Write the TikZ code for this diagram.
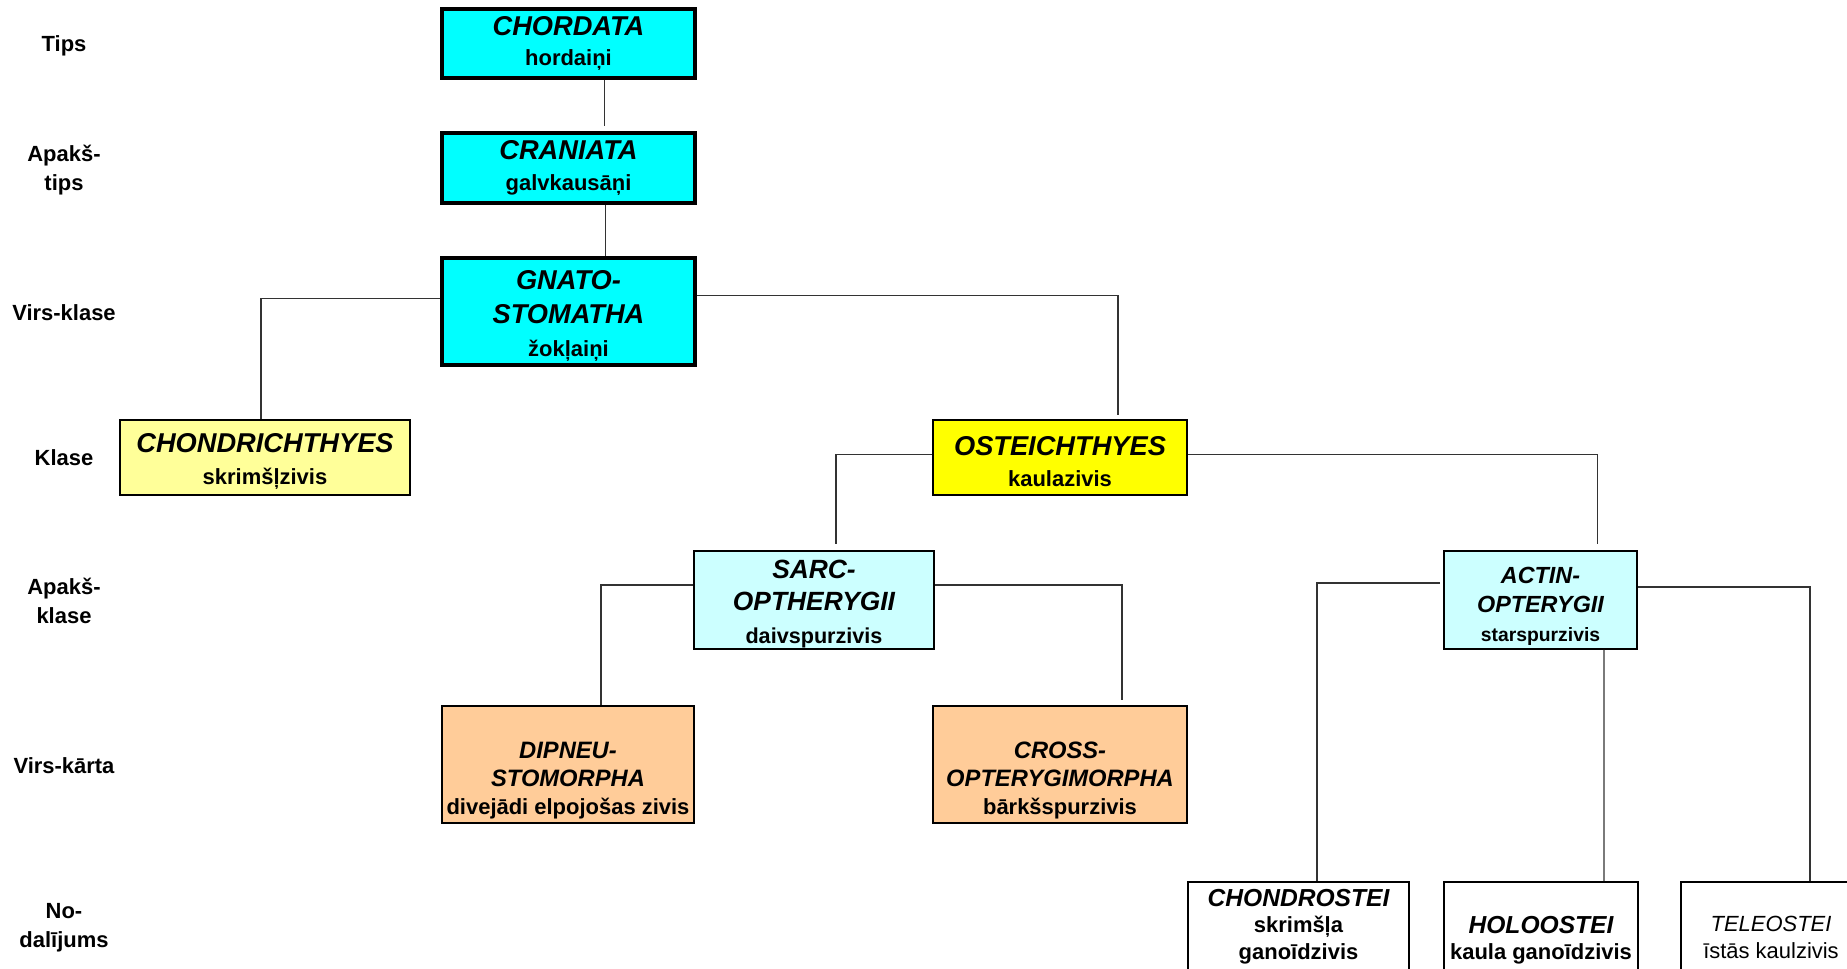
\documentclass[tikz,border=0pt]{standalone}
\usepackage{fontspec}
\setmainfont{Liberation Sans}
\usetikzlibrary{calc}
\definecolor{boxcyan}{HTML}{00FFFF}
\definecolor{palecyan}{HTML}{CCFFFF}
\definecolor{paleyellow}{HTML}{FFFF99}
\definecolor{boxyellow}{HTML}{FFFF00}
\definecolor{boxorange}{HTML}{FFCC99}
\newcommand{\taxon}[2][15.5]{{\fontsize{#1}{#1}\selectfont\bfseries\itshape #2}}
\newcommand{\vards}[2][12.5]{{\fontsize{#1}{#1}\selectfont\bfseries #2}}
\newcommand{\hgap}[1]{\rule{0pt}{#1}}
\tikzset{
	taxbox/.style={draw=black, align=center, inner sep=0pt, line width=1.1pt, font=\fontsize{12.5}{17.5}\selectfont},
	thickbox/.style={taxbox, line width=1.9pt},
	boxsize/.style 2 args={minimum width=#1*0.02cm, minimum height=#2*0.02cm},
	link/.style={line width=0.75pt, draw=black!80},
	rank/.style={align=center, font=\bfseries\fontsize{12.5}{16.5}\selectfont}
}

\begin{document}
\begin{tikzpicture}[x=0.02cm, y=-0.02cm]
			%%%%% START %%%%%
			\useasboundingbox (0,0) rectangle (1847,968);
			\clip (0,0) rectangle (1847,968);
			
			% ranks
			\node[rank] (tips) at (64,46) {Tips};
			\node[rank] (apaktips) at (64,170) {Apakš-\\tips};
			\node[rank] (virsklase) at (64,313) {Virs-klase};
			\node[rank] (klase) at (64,458) {Klase};
			\node[rank] (apakklase) at (64,601) {Apakš-\\klase};
			\node[rank] (virskarta) at (64,766) {Virs-kārta};
			\node[rank] (nodalijums) at (64,928) {No-\\dalījums};
			
			% taxa
			\node[thickbox, fill=boxcyan, boxsize={253}{69}] (chordata) at (568.5,43.5) {\taxon{CHORDATA}\\\vards{hordaiņi}};
			\node[thickbox, fill=boxcyan, boxsize={253}{70}] (craniata) at (568.5,168) {\taxon{CRANIATA}\\\vards{galvkausāņi}};
			\node[thickbox, fill=boxcyan, boxsize={253}{107}, font=\fontsize{12.5}{19}\selectfont] (gnato) at (568.5,311.5) {\hgap{16pt}\taxon{GNATO-}\\\taxon{STOMATHA}\\\vards{žokļaiņi}};
			
			\node[taxbox, fill=paleyellow, boxsize={290}{75}, font=\fontsize{12.5}{18}\selectfont] (chondri) at (265,457.5) {\hgap{15.5pt}\taxon{CHONDRICHTHYES}\\\vards{skrimšļzivis}};
			\node[taxbox, fill=boxyellow, boxsize={254}{75}, font=\fontsize{12.5}{18}\selectfont] (oste) at (1060,457.5) {\hgap{15.5pt}\taxon{OSTEICHTHYES}\\\vards{kaulazivis}};
			
			\node[taxbox, fill=palecyan, boxsize={240}{98}, font=\fontsize{12.5}{18.5}\selectfont] (sarco) at (814,600) {\hgap{14.5pt}\taxon[15]{SARC-}\\\taxon[15]{OPTHERYGII}\\\vards[12.3]{daivspurzivis}};
			\node[taxbox, fill=palecyan, boxsize={193}{98}, font=\fontsize{12.5}{16.5}\selectfont] (actino) at (1540.5,600) {\hgap{16pt}\taxon[13.3]{ACTIN-}\\\taxon[13.3]{OPTERYGII}\\\vards[11]{starspurzivis}};
			
			\node[taxbox, fill=boxorange, boxsize={252}{117}, font=\fontsize{12.5}{16}\selectfont] (dipneu) at (568,764.5) {\strut\\\taxon[13.5]{DIPNEU-}\\\taxon[13.5]{STOMORPHA}\\\vards{divejādi elpojošas zivis}};
			\node[taxbox, fill=boxorange, boxsize={254}{117}, font=\fontsize{12.5}{16}\selectfont] (crosso) at (1060,764.5) {\strut\\\taxon[13.5]{CROSS-}\\\taxon[13.5]{OPTERYGIMORPHA}\\\vards{bārkšspurzivis}};
			
			\node[taxbox, fill=white, boxsize={221}{89}, font=\fontsize{12.5}{15}\selectfont] (chondro) at (1298.5,926.5) {\taxon[14]{CHONDROSTEI}\\\vards{skrimšļa}\\\vards{ganoīdzivis}};
			\node[taxbox, fill=white, boxsize={194}{89}, font=\fontsize{12.5}{15}\selectfont] (holo) at (1541,926.5) {\strut\\\taxon[14]{HOLOOSTEI}\\\vards{kaula ganoīdzivis}};
			\node[taxbox, fill=white, boxsize={180}{89}, font=\fontsize{12.5}{15}\selectfont] (teleo) at (1771,926.5) {\strut\\{\itshape TELEOSTEI}\\īstās kaulzivis\strut};
			
			% links
			\draw[link] ($(chordata.south)+(36,0)$) -- ($(craniata.north)+(36,-5)$);
			\draw[link] ($(craniata.south)+(37,0)$) -- ($(gnato.north)+(37,0)$);
			\draw[link] ($(gnato.west)+(0,-13)$) -| ($(chondri.north)+(-4,0)$);
			\draw[link] ($(gnato.east)+(0,-16)$) -| ($(oste.north)+(58,-4)$);
			\draw[link] ($(oste.west)+(0,-3)$) -| ($(sarco.north)+(22,-6)$);
			\draw[link] ($(oste.east)+(0,-3)$) -| ($(actino.north)+(57,-6)$);
			\draw[link] ($(sarco.west)+(0,-15)$) -| ($(dipneu.north)+(33,0)$);
			\draw[link] ($(sarco.east)+(0,-15)$) -| ($(crosso.north)+(62,-5)$);
			\draw[link] ($(actino.west)+(-3,-17)$) -| ($(chondro.north)+(18.5,0)$);
			\draw[link] ($(actino.south)+(63.5,0)$) -- ($(holo.north)+(63,0)$);
			\draw[link] ($(actino.east)+(0,-13)$) -| ($(teleo.north)+(39,0)$);
			
			%%%%% END %%%%%
\end{tikzpicture}
\end{document}
